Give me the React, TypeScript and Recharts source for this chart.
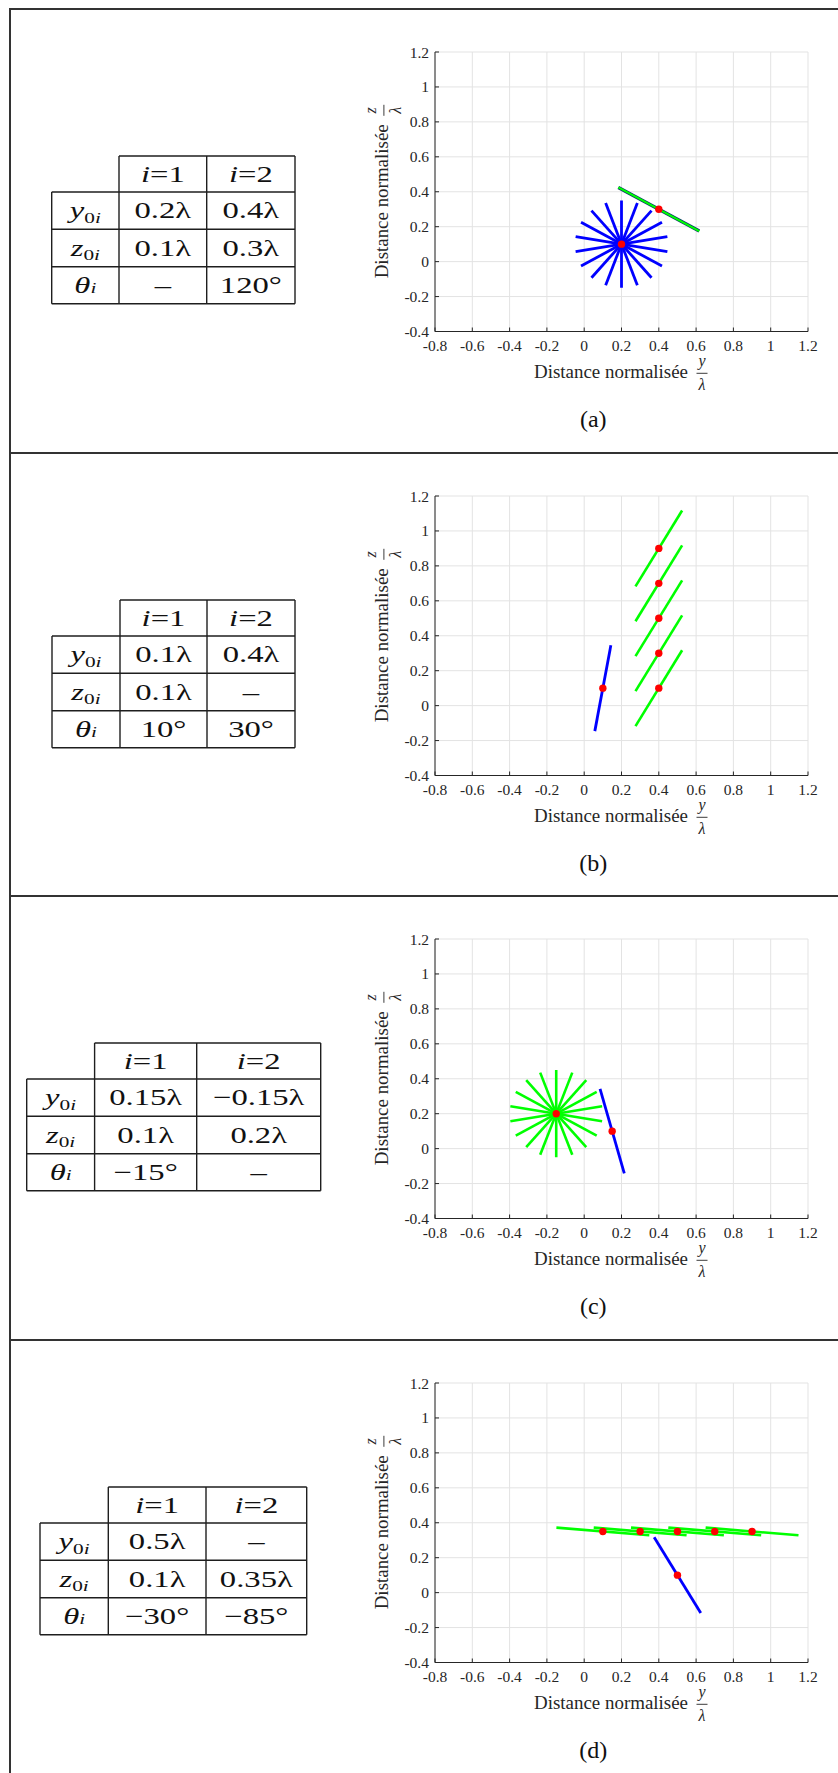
import React from 'react';
import { ScatterChart, Scatter, XAxis, YAxis, CartesianGrid } from 'recharts';

type Seg = [number, number, number, number]; // y1, z1, y2, z2
type Pt = [number, number]; // y, z

const xTicks = [-0.8, -0.6, -0.4, -0.2, 0, 0.2, 0.4, 0.6, 0.8, 1, 1.2];
const yTicks = [-0.4, -0.2, 0, 0.2, 0.4, 0.6, 0.8, 1, 1.2];

// (a) dipole 1 swept in angle, dipole 2 fixed at 120°
const blueA: Seg[] = [
  [0.2, -0.15, 0.2, 0.35],
  [0.115, -0.135, 0.285, 0.335],
  [0.039, -0.092, 0.361, 0.292],
  [-0.017, -0.025, 0.417, 0.225],
  [-0.046, 0.057, 0.446, 0.143],
  [-0.046, 0.143, 0.446, 0.057],
  [-0.017, 0.225, 0.417, -0.025],
  [0.039, 0.292, 0.361, -0.092],
  [0.115, 0.335, 0.285, -0.135],
];
const greenA: Seg[] = [[0.183, 0.425, 0.617, 0.175]];
const dotsA: Pt[] = [[0.2, 0.1], [0.4, 0.3]];

// (b) dipole 2 swept along z
const blueB: Seg[] = [[0.057, -0.146, 0.143, 0.346]];
const greenB: Seg[] = [
  [0.275, -0.117, 0.525, 0.317],
  [0.275, 0.083, 0.525, 0.517],
  [0.275, 0.283, 0.525, 0.717],
  [0.275, 0.483, 0.525, 0.917],
  [0.275, 0.683, 0.525, 1.117],
];
const dotsB: Pt[] = [[0.1, 0.1], [0.4, 0.1], [0.4, 0.3], [0.4, 0.5], [0.4, 0.7], [0.4, 0.9]];

// (c) dipole 2 swept in angle
const blueC: Seg[] = [[0.085, 0.342, 0.215, -0.142]];
const greenC: Seg[] = [
  [-0.15, -0.05, -0.15, 0.45],
  [-0.236, -0.035, -0.064, 0.435],
  [-0.311, 0.009, 0.011, 0.392],
  [-0.367, 0.075, 0.067, 0.325],
  [-0.396, 0.157, 0.096, 0.243],
  [-0.396, 0.243, 0.096, 0.157],
  [-0.367, 0.325, 0.067, 0.075],
  [-0.311, 0.392, 0.011, 0.009],
  [-0.236, 0.435, -0.064, -0.035],
];
const dotsC: Pt[] = [[0.15, 0.1], [-0.15, 0.2]];

// (d) dipole 2 swept along y
const blueD: Seg[] = [[0.375, 0.317, 0.625, -0.117]];
const greenD: Seg[] = [
  [-0.149, 0.372, 0.349, 0.328],
  [0.051, 0.372, 0.549, 0.328],
  [0.251, 0.372, 0.749, 0.328],
  [0.451, 0.372, 0.949, 0.328],
  [0.651, 0.372, 1.149, 0.328],
];
const dotsD: Pt[] = [[0.5, 0.1], [0.1, 0.35], [0.3, 0.35], [0.5, 0.35], [0.7, 0.35], [0.9, 0.35]];

// table cells: [i=1, i=2]
const y0A = ['0.2λ', '0.4λ'];
const z0A = ['0.1λ', '0.3λ'];
const thA = ['–', '120°'];
const y0B = ['0.1λ', '0.4λ'];
const z0B = ['0.1λ', '–'];
const thB = ['10°', '30°'];
const y0C = ['0.15λ', '−0.15λ'];
const z0C = ['0.1λ', '0.2λ'];
const thC = ['−15°', '–'];
const y0D = ['0.5λ', '–'];
const z0D = ['0.1λ', '0.35λ'];
const thD = ['−30°', '−85°'];

const FONT = '"Liberation Serif", "DejaVu Serif", serif';
const INK = '#262626';
const BLUE = '#0000ff';
const GREEN = '#00ff00';

const fmt = (v: number) => String(Math.round(v * 10) / 10);
const noDot = () => <g />;
const redDot = (p: any) => <circle cx={p.cx} cy={p.cy} r={3.7} fill="#ff0000" />;

const segData = (s: Seg) => [{ y: s[0], z: s[1] }, { y: s[2], z: s[3] }];

const Plot = ({ blue, green, dots, edge }: { blue: Seg[]; green: Seg[]; dots: Pt[]; edge?: boolean }) => (
  <ScatterChart width={500} height={444} margin={{ top: 44, right: 22, bottom: 90.5, left: 65 }}>
    <CartesianGrid stroke="#e3e3e3" strokeWidth={1} />
    <XAxis
      type="number"
      dataKey="y"
      domain={[-0.8, 1.2]}
      ticks={xTicks}
      interval={0}
      allowDataOverflow
      height={30}
      tickSize={-4}
      tickMargin={12.5}
      stroke={INK}
      tick={{ fill: INK, fontSize: 15.5, fontFamily: FONT }}
      tickFormatter={fmt}
    />
    <YAxis
      type="number"
      dataKey="z"
      domain={[-0.4, 1.2]}
      ticks={yTicks}
      interval={0}
      allowDataOverflow
      width={40}
      tickSize={-4}
      tickMargin={10}
      stroke={INK}
      tick={{ fill: INK, fontSize: 15.5, fontFamily: FONT }}
      tickFormatter={fmt}
    />
    {blue.map((s, k) => (
      <Scatter key={'b' + k} data={segData(s)} line={{ stroke: BLUE, strokeWidth: 2.8 }} shape={noDot} isAnimationActive={false} />
    ))}
    {edge &&
      green.map((s, k) => (
        <Scatter key={'e' + k} data={segData(s)} line={{ stroke: '#0a3a6a', strokeWidth: 3.4 }} shape={noDot} isAnimationActive={false} />
      ))}
    {green.map((s, k) => (
      <Scatter key={'g' + k} data={segData(s)} line={{ stroke: GREEN, strokeWidth: edge ? 2 : 2.6 }} shape={noDot} isAnimationActive={false} />
    ))}
    <Scatter data={dots.map(([y, z]) => ({ y, z }))} shape={redDot} isAnimationActive={false} />
  </ScatterChart>
);

const AxisTitle = ({ num }: { num: string }) => (
  <g fill={INK} fontFamily={FONT}>
    <text x={0} y={0} fontSize={18} textLength={154} lengthAdjust="spacingAndGlyphs">
      Distance normalisée
    </text>
    <text x={168} y={-12} fontSize={16} fontStyle="italic" textAnchor="middle">
      {num}
    </text>
    <line x1={162.5} x2={173.5} y1={-4.4} y2={-4.4} stroke={INK} strokeWidth={0.9} />
    <text x={168} y={12.3} fontSize={16} fontStyle="italic" textAnchor="middle">
      λ
    </text>
  </g>
);

const rowTops = [148, 184, 221.3, 258.7, 295.7];

const Sub = ({ base, upright }: { base: string; upright?: string }) => (
  <>
    <tspan fontStyle="italic">{base}</tspan>
    <tspan fontSize={15} dy={4.5}>
      {upright}
    </tspan>
    <tspan fontSize={15} fontStyle="italic">
      i
    </tspan>
  </>
);

// cell text, stretched horizontally like the typeset table
const Cell = ({ x, y, children }: { x: number; y: number; children: React.ReactNode }) => (
  <text transform={`translate(${x}, ${y}) scale(1.42, 1)`}>{children}</text>
);

const Table = ({ cols, y0, z0, th }: { cols: number[]; y0: string[]; z0: string[]; th: string[] }) => {
  const [x0, x1, x2, x3] = cols;
  const [r0, r1, r2, r3, r4] = rowTops;
  const ln = { stroke: '#1e1e1e', strokeWidth: 1.4 };
  const cx = [(x0 + x1) / 2, (x1 + x2) / 2, (x2 + x3) / 2];
  const mid = (a: number, b: number) => (a + b) / 2 + 7.8;
  return (
    <g fontFamily={FONT} fontSize={23} fill="#111" textAnchor="middle">
      <line x1={x1} x2={x3} y1={r0} y2={r0} {...ln} />
      {[r1, r2, r3, r4].map((r) => (
        <line key={r} x1={x0} x2={x3} y1={r} y2={r} {...ln} />
      ))}
      <line x1={x0} x2={x0} y1={r1} y2={r4} {...ln} />
      {[x1, x2, x3].map((x) => (
        <line key={x} x1={x} x2={x} y1={r0} y2={r4} {...ln} />
      ))}
      <Cell x={cx[1]} y={mid(r0, r1)}>
        <tspan fontStyle="italic">i</tspan>
        {'=1'}
      </Cell>
      <Cell x={cx[2]} y={mid(r0, r1)}>
        <tspan fontStyle="italic">i</tspan>
        {'=2'}
      </Cell>
      <Cell x={cx[0]} y={mid(r1, r2)}>
        <Sub base="y" upright="0" />
      </Cell>
      <Cell x={cx[0]} y={mid(r2, r3)}>
        <Sub base="z" upright="0" />
      </Cell>
      <Cell x={cx[0]} y={mid(r3, r4)}>
        <Sub base="θ" />
      </Cell>
      {[y0, z0, th].map((row, ri) =>
        row.map((v, ci) => (
          <Cell key={ri + '-' + ci} x={cx[ci + 1]} y={mid(rowTops[ri + 1], rowTops[ri + 2])}>
            {v}
          </Cell>
        ))
      )}
    </g>
  );
};

const panels = [
  { top: 8, cap: '(a)', blue: blueA, green: greenA, dots: dotsA, edge: true, cols: [51.7, 119, 206.7, 295], y0: y0A, z0: z0A, th: thA },
  { top: 452, cap: '(b)', blue: blueB, green: greenB, dots: dotsB, edge: false, cols: [52, 120, 207, 295], y0: y0B, z0: z0B, th: thB },
  { top: 895, cap: '(c)', blue: blueC, green: greenC, dots: dotsC, edge: false, cols: [26.7, 94.6, 196.7, 320.7], y0: y0C, z0: z0C, th: thC },
  { top: 1339, cap: '(d)', blue: blueD, green: greenD, dots: dotsD, edge: false, cols: [40, 108.3, 206, 306.7], y0: y0D, z0: z0D, th: thD },
];

export default function App() {
  return (
    <div style={{ position: 'absolute', left: 0, top: 0, width: 838, height: 1773, background: '#fff', overflow: 'hidden' }}>
      <div style={{ position: 'absolute', left: 9, top: 8, width: 1.5, height: 1773, background: '#333' }} />
      {panels.map((p) => (
        <div key={p.cap} style={{ position: 'absolute', left: 0, top: p.top, width: 838, height: 444 }}>
          <div style={{ position: 'absolute', left: 9, top: 0, width: 829, height: 1.5, background: '#333' }} />
          <div style={{ position: 'absolute', left: 330, top: 0 }}>
            <Plot blue={p.blue} green={p.green} dots={p.dots} edge={p.edge} />
          </div>
          <svg width={838} height={444} style={{ position: 'absolute', left: 0, top: 0, pointerEvents: 'none' }}>
            <g transform="translate(534, 369.7)">
              <AxisTitle num="y" />
            </g>
            <g transform="translate(388.3, 270.3) rotate(-90)">
              <AxisTitle num="z" />
            </g>
            <text x={593.3} y={418.7} fontSize={24} fontFamily={FONT} textAnchor="middle" fill="#111">
              {p.cap}
            </text>
            <Table cols={p.cols} y0={p.y0} z0={p.z0} th={p.th} />
          </svg>
        </div>
      ))}
    </div>
  );
}
